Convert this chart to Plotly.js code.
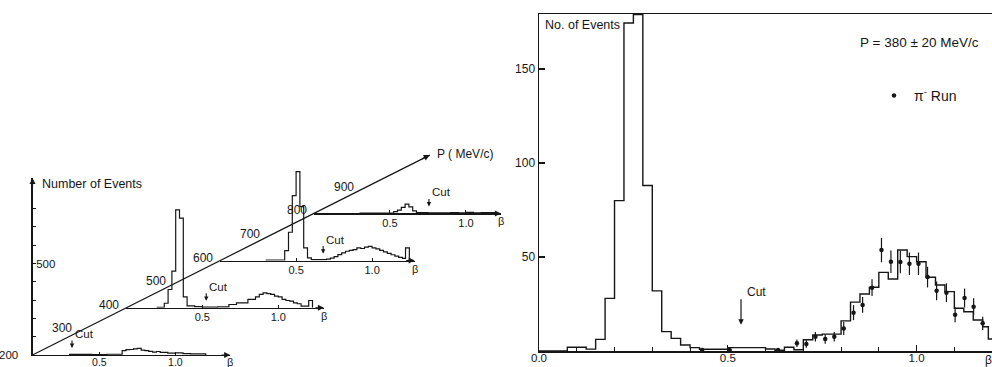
<!DOCTYPE html>
<html>
<head>
<meta charset="utf-8">
<script src="https://cdn.plot.ly/plotly-3.0.1.min.js"></script>
<style>html,body{margin:0;padding:0;background:#fff;}#chart{width:992px;height:367px;}</style>
</head>
<body>
<div id="chart"></div>
<script>
// ---------------- DATA ----------------
// Left panel: beta spectra at several momenta P (MeV/c)
const pPanels = [200, 400, 600, 800];
const pTicks = [300, 400, 500, 600, 700, 800, 900];
const pAxisEnd = 1047;

const edges200 = [0.3, 0.45, 0.55, 0.65, 0.675, 0.7, 0.725, 0.75, 0.775, 0.8, 0.825, 0.85, 0.875, 0.9, 0.95, 1.0, 1.05, 1.1, 1.2];
const n200     = [3, 2, 4, 24, 29, 30, 33, 36, 27, 24, 20, 16, 19, 14, 10, 12, 8, 6];

const edges400 = [0.2, 0.25, 0.275, 0.3, 0.325, 0.35, 0.375, 0.4, 0.45, 0.5, 0.6, 0.675, 0.725, 0.8, 0.85, 0.875, 0.9, 0.925, 0.95, 0.975, 1.0, 1.025, 1.05, 1.075, 1.1, 1.125, 1.15, 1.2, 1.225];
const n400     = [3, 25, 100, 200, 535, 490, 60, 10, 6, 4, 5, 18, 27, 46, 60, 73, 82, 78, 73, 64, 60, 46, 40, 36, 27, 22, 9, 40];

const edges600 = [0.3, 0.425, 0.45, 0.475, 0.5, 0.525, 0.55, 0.575, 0.6, 0.7, 0.725, 0.75, 0.775, 0.8, 0.825, 0.85, 0.875, 0.9, 0.925, 0.95, 0.975, 1.0, 1.025, 1.05, 1.075, 1.1, 1.125, 1.15, 1.175, 1.2, 1.22, 1.245];
const n600     = [3, 55, 155, 355, 486, 295, 70, 15, 5, 8, 14, 22, 33, 42, 51, 56, 60, 69, 66, 74, 78, 70, 64, 56, 48, 40, 32, 24, 18, 12, 70];

const edges800 = [0.3, 0.525, 0.55, 0.575, 0.6, 0.625, 0.65, 0.675, 0.75, 0.9, 0.95, 1.0, 1.05, 1.1, 1.2];
const n800     = [2, 10, 18, 33, 51, 36, 14, 5, 3, 5, 3, 6, 3, 4];

const cutBeta = [0.32, 0.526, 0.678, 0.757];

// Right panel: P = 380 +- 20 MeV/c
const histEdges  = [0.0, 0.075, 0.125, 0.15, 0.175, 0.2, 0.225, 0.25, 0.275, 0.3, 0.325, 0.35, 0.375, 0.4, 0.425, 0.5, 0.6, 0.625, 0.65, 0.675, 0.7, 0.725, 0.75, 0.775, 0.8, 0.825, 0.85, 0.875, 0.9, 0.925, 0.95, 0.975, 1.0, 1.025, 1.05, 1.075, 1.1, 1.125, 1.15, 1.175, 1.19, 1.22];
const histCounts = [0, 2, 1, 6.2, 28, 80, 174.5, 179, 88, 32, 10.3, 6.7, 3.2, 1.8, 0.9, 1.8, 1.1, 0.4, 2, 0.7, 6, 8.5, 9, 9, 16, 26, 30.3, 33.9, 41.8, 38.3, 53.7, 50.2, 47.5, 39.2, 35.1, 31.6, 22.7, 20.9, 16.5, 12.9, 6.4];

const ptBeta  = [0.432, 0.505, 0.633, 0.683, 0.708, 0.732, 0.758, 0.782, 0.807, 0.833, 0.857, 0.882, 0.907, 0.932, 0.957, 0.981, 1.005, 1.029, 1.053, 1.079, 1.102, 1.127, 1.151, 1.175];
const ptCount = [0.5, 0.5, 0.5, 4.1, 3.7, 7.6, 6.4, 7.6, 12, 20.4, 24.5, 33.7, 53.7, 47.5, 47.3, 46.4, 46.4, 39.3, 32, 31, 19.3, 28.2, 23.6, 14.7];
const ptErr   = [0, 0, 0, 2, 2, 2.5, 2.5, 2.5, 3.5, 4, 4.2, 4.5, 6.5, 6, 6, 6, 6, 5.5, 5, 5, 4, 5, 4.5, 3.5];

const cutRight = 0.535;

// ---------------- STYLE / GEOMETRY ----------------
const W = 992, H = 367;
const FONT = 'Liberation Sans, Arial, sans-serif';
const INK = '#161616';
const PX_PER_P = 0.469, PY_PER_P = 0.236, ORIGIN = [32.5, 355];
const PX_PER_BETA = 152, PX_PER_EVENT = 0.183;
const betaStart = [0.06, 0, 0, 0];
const betaEnd = [1.36, 1.3, 1.28, 1.23];
const panelHeight = [177, 150, 150, 150];

function txt(size) { return {family: FONT, size: size, color: INK}; }

const data = [];
const annotations = [];
const layout = {
  width: W, height: H,
  margin: {l: 0, r: 0, t: 0, b: 0, pad: 0},
  paper_bgcolor: '#fff', plot_bgcolor: 'rgba(0,0,0,0)',
  font: txt(12),
  showlegend: true,
  legend: {x: 874 / W, y: 1 - 96 / H, xanchor: 'left', yanchor: 'middle', bgcolor: 'rgba(0,0,0,0)',
           font: txt(14), itemwidth: 30, borderwidth: 0},
  hovermode: false
};

const edgesAll = [edges200, edges400, edges600, edges800];
const countsAll = [n200, n400, n600, n800];

pPanels.forEach((P, i) => {
  const k = i + 2;
  const ox = ORIGIN[0] + (P - 200) * PX_PER_P;
  const oy = ORIGIN[1] - (P - 200) * PY_PER_P;
  const wpx = (betaEnd[i] - betaStart[i]) * PX_PER_BETA;
  const yTop = panelHeight[i] / PX_PER_EVENT;
  layout['xaxis' + k] = {
    domain: [ox / W, (ox + wpx) / W], range: [betaStart[i], betaEnd[i]], anchor: 'y' + k,
    showline: true, linewidth: 1.2, linecolor: INK, showgrid: false, zeroline: false,
    tickmode: 'array', tickvals: [0.5, 1.0], ticktext: ['0.5', '1.0'],
    ticks: 'inside', ticklen: 3, tickcolor: INK, tickwidth: 1, tickfont: txt(i === 0 ? 10.5 : 11),
    ticklabelstandoff: i === 0 ? -3 : -1, fixedrange: true
  };
  layout['yaxis' + k] = {
    domain: [1 - oy / H, 1 - (oy - panelHeight[i]) / H], range: [0, yTop], anchor: 'x' + k,
    visible: i === 0, showline: true, linewidth: 1.2, linecolor: INK, showgrid: false, zeroline: false,
    tickmode: 'array', tickvals: [100, 200, 300, 400, 500, 600, 700, 800],
    ticktext: ['', '', '', '', '500', '', '', ''],
    ticks: 'inside', ticklen: 3, tickcolor: INK, ticklabelposition: 'inside', tickfont: txt(11.5), fixedrange: true
  };
  data.push({
    x: edgesAll[i], y: countsAll[i].concat([0]), xaxis: 'x' + k, yaxis: 'y' + k,
    type: 'scatter', mode: 'lines', line: {shape: 'hv', width: 1.2, color: INK},
    showlegend: false, hoverinfo: 'skip'
  });
  // beta-axis arrowhead + label
  annotations.push({xref: 'x' + k, yref: 'y' + k, x: betaEnd[i], y: 0, ax: -10, ay: 0, text: '', showarrow: true,
    arrowhead: 2, arrowsize: 1, arrowwidth: 1.2, arrowcolor: INK});
  annotations.push({xref: 'x' + k, yref: 'y' + k, x: betaEnd[i], y: 0, yshift: i === 0 ? -7 : -8, text: 'β', showarrow: false,
    font: txt(11), xanchor: 'center', yanchor: 'middle'});
  // cut arrow + label
  annotations.push({xref: 'x' + k, yref: 'y' + k, x: cutBeta[i], y: 7 / PX_PER_EVENT, ax: 0, ay: -9, text: '', showarrow: true,
    arrowhead: 2, arrowsize: 0.8, arrowwidth: 1.1, arrowcolor: INK});
  annotations.push({xref: 'x' + k, yref: 'y' + k, x: cutBeta[i], y: 21 / PX_PER_EVENT, xshift: 1, text: 'Cut', showarrow: false,
    font: txt(11.5), xanchor: 'left', yanchor: 'middle'});
});

// vertical "Number of Events" axis arrowhead
annotations.push({xref: 'x2', yref: 'y2', x: betaStart[0], y: panelHeight[0] / PX_PER_EVENT, ax: 0, ay: 10, text: '', showarrow: true,
  arrowhead: 2, arrowsize: 1, arrowwidth: 1.2, arrowcolor: INK});
annotations.push({xref: 'paper', yref: 'paper', x: 40 / W, y: 1 - 184 / H, xanchor: 'left', yanchor: 'middle',
  text: 'Number of Events', showarrow: false, font: txt(12.5)});

// Diagonal P axis (x6/y6 both in MeV/c)
const x6dom = [0, 0.54];
layout.xaxis6 = {domain: x6dom, anchor: 'y6', visible: false, fixedrange: true,
  range: [200 - ORIGIN[0] / PX_PER_P, 200 + (x6dom[1] * W - ORIGIN[0]) / PX_PER_P]};
layout.yaxis6 = {domain: [0, 1], anchor: 'x6', visible: false, fixedrange: true,
  range: [200 - (H - ORIGIN[1]) / PY_PER_P, 200 + ORIGIN[1] / PY_PER_P]};
data.push({x: [200, pAxisEnd], y: [200, pAxisEnd], xaxis: 'x6', yaxis: 'y6', type: 'scatter', mode: 'lines',
  line: {width: 1.2, color: INK}, showlegend: false, hoverinfo: 'skip'});
annotations.push({xref: 'x6', yref: 'y6', x: pAxisEnd, y: pAxisEnd, ax: -9, ay: 4.5, text: '', showarrow: true,
  arrowhead: 2, arrowsize: 1, arrowwidth: 1.2, arrowcolor: INK});
annotations.push({xref: 'x6', yref: 'y6', x: pAxisEnd, y: pAxisEnd, xshift: 5, yshift: 1, text: 'P ( MeV/c)', showarrow: false,
  xanchor: 'left', yanchor: 'middle', font: txt(12)});
annotations.push({xref: 'x6', yref: 'y6', x: 200, y: 200, xshift: -13, text: '200', showarrow: false,
  xanchor: 'right', yanchor: 'middle', font: txt(11.5)});
pTicks.forEach(p => annotations.push({xref: 'x6', yref: 'y6', x: p, y: p, xshift: -5, yshift: 3, text: String(p), showarrow: false,
  xanchor: 'right', yanchor: 'middle', font: txt(12)}));

// ---------------- RIGHT PANEL ----------------
const xR0 = 539, pxPerBetaR = 377.6, yR0 = 351, yRtop = 14, pxPerEvR = 1.88;
layout.xaxis = {
  domain: [xR0 / W, 1], range: [0, (W - xR0) / pxPerBetaR], anchor: 'y',
  showline: true, mirror: true, linewidth: 1.5, linecolor: INK, showgrid: false, zeroline: false,
  tickmode: 'linear', tick0: 0, dtick: 0.5, tickformat: '.1f', ticks: 'inside', ticklen: 6, tickwidth: 1.2, tickcolor: INK,
  tickfont: txt(11.5), ticklabelstandoff: -4,
  minor: {dtick: 0.1, tick0: 0, ticks: 'inside', ticklen: 4, tickwidth: 1, tickcolor: INK, showgrid: false},
  fixedrange: true
};
layout.yaxis = {
  domain: [1 - yR0 / H, 1 - yRtop / H], range: [0, (yR0 - yRtop) / pxPerEvR], anchor: 'x',
  showline: true, linewidth: 1.5, linecolor: INK, showgrid: false, zeroline: false,
  tickmode: 'array', tickvals: [50, 100, 150], ticks: 'inside', ticklen: 6, tickwidth: 1.2, tickcolor: INK,
  tickfont: txt(12), fixedrange: true
};
data.push({
  x: histEdges, y: histCounts.concat([0]), xaxis: 'x', yaxis: 'y', type: 'scatter', mode: 'lines',
  line: {shape: 'hv', width: 1.4, color: INK}, showlegend: false, hoverinfo: 'skip'
});
data.push({
  x: ptBeta, y: ptCount, xaxis: 'x', yaxis: 'y', type: 'scatter', mode: 'markers',
  name: 'π<sup>-</sup> Run',
  marker: {size: 4.5, color: INK, symbol: 'circle'},
  error_y: {type: 'data', array: ptErr, visible: true, width: 0, thickness: 1.2, color: INK},
  showlegend: true, hoverinfo: 'skip', cliponaxis: false
});

annotations.push({xref: 'paper', yref: 'paper', x: 543 / W, y: 1 - 25 / H, xanchor: 'left', yanchor: 'middle',
  text: 'No. of Events', showarrow: false, font: txt(12.5)});
annotations.push({xref: 'paper', yref: 'paper', x: 858 / W, y: 1 - 43 / H, xanchor: 'left', yanchor: 'middle',
  text: 'P = 380 ± 20 MeV/c', showarrow: false, font: txt(13.5)});
annotations.push({xref: 'x', yref: 'y', x: cutRight, y: 14, ax: 0, ay: -27, text: '', showarrow: true,
  arrowhead: 2, arrowsize: 0.9, arrowwidth: 1.2, arrowcolor: INK});
annotations.push({xref: 'x', yref: 'y', x: cutRight, y: 31.4, xshift: 4, text: 'Cut', showarrow: false,
  xanchor: 'left', yanchor: 'middle', font: txt(12)});
annotations.push({xref: 'x', yref: 'paper', x: 1.19, y: 1 - 360 / H, text: 'β', showarrow: false,
  xanchor: 'center', yanchor: 'middle', font: txt(12)});

layout.annotations = annotations;

Plotly.newPlot('chart', data, layout, {staticPlot: true, displayModeBar: false});
</script>
</body>
</html>
